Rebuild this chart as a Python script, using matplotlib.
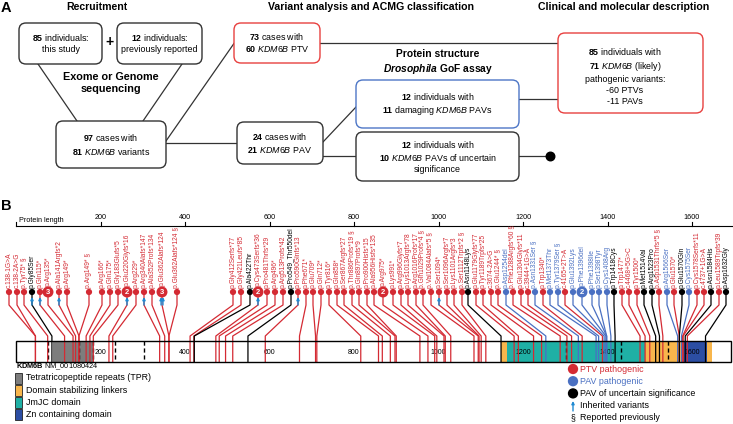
import matplotlib
matplotlib.use("Agg")
import matplotlib.pyplot as plt
from matplotlib.patches import FancyBboxPatch, Rectangle

plt.rcParams['font.family'] = ['Liberation Sans', 'DejaVu Sans']
plt.rcParams['mathtext.fontset'] = 'custom'
plt.rcParams['mathtext.rm'] = 'Liberation Sans'
plt.rcParams['mathtext.bf'] = 'Liberation Sans:bold'
plt.rcParams['mathtext.it'] = 'Liberation Sans:italic'
plt.rcParams['mathtext.sf'] = 'Liberation Sans:bold:italic'

# ---- data (panel B) ----
labels = [
    "c.138-1G>A", "c.138-2A>G", "p.Tyr75*", "p.Gly85Ser", "p.Gln115*", "p.Arg135*", "p.Ala141Argfs*2",
    "p.Arg149*", "p.Arg149*", "p.Arg166*", "p.Gln175*", "p.Gly183Glufs*5", "p.Glu220Glyfs*16",
    "p.Arg229*", "p.Arg340Alafs*147", "p.Ala352Profs*134", "p.Glu362Alafs*124", "p.Glu362Alafs*124",
    "p.Gly412Serfs*77", "p.Gly421Leufs*85", "p.Ala422Thr", "p.Cys473Serfs*36", "p.Pro481Thrfs*29",
    "p.Arg496*", "p.Arg513Profs*42", "p.Pro549_Thr550del", "p.Pro590Glnfs*13", "p.Phe671*",
    "p.Glu709*", "p.Gln712*", "p.Tyr816*", "p.Gln858*", "p.Ser867Argfs*27", "p.Thr886Profs*19",
    "p.Gln897Profs*9", "p.Pro900Hisfs*15", "p.Ala956Hisfs*135", "p.Arg975*", "p.Lys991*",
    "p.Arg996Glyfs*7", "p.Lys1013Argfs*78", "p.Arg1016Profs*17", "p.Gln1029Profs*4",
    "p.Val1084Alafs*5", "p.Ser1094*", "p.Ser1096Argfs*7", "p.Lys1101Argfs*3", "p.Ser1112Trpfs*2",
    "p.Asn1148Lys", "p.Glu1179Glyfs*77", "p.Tyr1189Trpfs*25", "c.3674-2A>G", "p.Glu1244*",
    "p.Asp1254del", "p.Phe1288Argfs*60", "p.Glu1304Glyfs*11", "c.3944+1G>A", "p.Asn1331Ser",
    "p.Trp1340*", "p.Met1373Thr", "p.Tyr1379Ser", "c.4165+2T>A", "p.Glu1392Lys", "p.Phe1396del",
    "p.Phe1398Ile", "p.Ser1398Tyr", "p.Cys1408Arg", "p.Trp1418Cys", "p.Trp1477*", "c.4468+5G>C",
    "p.Tyr1500*", "p.Met1514Val", "p.Arg1523Pro", "p.Asp1531Thrfs*5", "p.Arg1566Ser", "p.Glu1570*",
    "p.Glu1570Gln", "p.Cys1575Ser", "p.Cys1578Serfs*11", "c.4737+1G>A", "p.Asn1584His",
    "p.Leu1589Trpfs*39", "p.Asp1632Gly"]
aa_pos = [46, 46, 75, 85, 115, 135, 141, 149, 149, 166, 175, 183, 220, 229, 340, 352, 362, 362,
          412, 421, 422, 473, 481, 496, 513, 549, 590, 671, 709, 712, 816, 858, 867, 886, 897, 900,
          956, 975, 991, 996, 1013, 1016, 1029, 1084, 1094, 1096, 1101, 1112, 1148, 1179, 1189, 1225,
          1244, 1254, 1288, 1304, 1315, 1331, 1340, 1373, 1379, 1388, 1392, 1396, 1398, 1398, 1408,
          1418, 1477, 1489, 1500, 1514, 1523, 1531, 1566, 1570, 1570, 1575, 1578, 1579, 1584, 1589,
          1632]
# P = PTV pathogenic, D = PAV pathogenic, U = PAV of uncertain significance
vclass = ("PPPUPPPPPP" "PPPPPPPPPP" "UPPPPUPPPP" "PPPPPPPPPP" "PPPPPPPPUP"
          "PPPDPPPDPD" "DPDDDDDUPP" "PUUPDPUDPP" "UPU")
n_cases = {5: 3, 12: 2, 16: 3, 21: 2, 37: 2, 63: 2}
n_inherited = {3: 1, 4: 1, 6: 1, 12: 1, 14: 1, 16: 2, 21: 1, 26: 1, 44: 1}
reported = [2, 8, 17, 33, 42, 43, 47, 52, 54, 57, 60, 73]

domains = [("TPR", 88, 182), ("linker", 1148, 1162), ("jmjc", 1162, 1489),
           ("linker", 1489, 1574), ("zn", 1579, 1635), ("linker", 1635, 1647)]
dashed_aa = [76, 149, 182, 234, 303, 1302, 1432, 1543]
ruler_ticks = [0, 200, 400, 600, 800, 1000, 1200, 1400, 1600]
bar_len = 1692

# ---- layout: horizontal position of each lollipop head (pixels) ----
dot_px = [9, 17, 24, 32, 40, 48, 59, 67, 89, 102, 110, 118, 127, 136, 144, 152, 162, 177, 233, 241,
          250, 258, 267, 275, 283, 291, 298, 306, 313, 321, 329, 337, 344, 352, 359, 367, 374, 383,
          393, 401, 408, 416, 423, 431, 439, 447, 454, 462, 468, 476, 483, 491, 498, 506, 513, 521,
          528, 535, 543, 550, 558, 565, 573, 582, 592, 599, 607, 614, 622, 629, 637, 644, 652, 659,
          667, 674, 682, 689, 697, 704, 711, 719, 726]

RED = '#d42a33'
BLUE = '#4a70c2'
TEAL = '#1fb0a5'
ORANGE = '#f8b64c'
ZN = '#2c4ea3'
GREY = '#7d7d7d'
ARROW = '#1f8ad2'
EDGE = '#333333'
ccol = {'P': RED, 'D': BLUE, 'U': 'black'}

W, H = 733, 424
fig = plt.figure(figsize=(W / 100, H / 100), dpi=100)

# panel A works in pixel units
axA = fig.add_axes([0, 0, 1, 1])
axA.set_xlim(0, W)
axA.set_ylim(H, 0)
axA.axis('off')

# panel B: x in amino acids
PX0, PPA = 16, 0.4225
axB = fig.add_axes([0, 0, 1, 1])
axB.set_xlim(-PX0 / PPA, (W - PX0) / PPA)
axB.set_ylim(H, 0)
axB.axis('off')
axB.patch.set_alpha(0)

# ================= panel A =================
axA.text(1, 8, "A", fontsize=10.5, fontweight='bold', va='center')
axA.text(97, 7, "Recruitment", fontsize=7.6, fontweight='bold', ha='center', va='center')
axA.text(371, 7, "Variant analysis and ACMG classification", fontsize=7.6, fontweight='bold',
         ha='center', va='center')
axA.text(624, 7, "Clinical and molecular description", fontsize=7.6, fontweight='bold',
         ha='center', va='center')

def box(x0, y0, x1, y1, ec=EDGE):
    axA.add_patch(FancyBboxPatch((x0, y0), x1 - x0, y1 - y0,
                                 boxstyle="round,pad=0,rounding_size=7",
                                 fc='white', ec=ec, lw=1.0, zorder=3))

def line(xs, ys):
    axA.plot(xs, ys, color=EDGE, lw=0.9, zorder=1)

line([38, 77], [64, 121])
line([182, 143], [64, 121])
line([166, 237], [143, 143])
line([166, 235], [141, 42])
line([320, 559], [43, 43])
line([323, 356], [142, 107])
line([323, 356], [156, 156])
line([519, 558], [99, 99])
line([519, 550], [156, 156])
axA.scatter([550], [156], s=38, color='black', zorder=4)

box(19, 23, 102, 64)
box(117, 23, 202, 64)
box(56, 121, 166, 168)
box(234, 23, 320, 63, ec='#e8403f')
box(237, 122, 323, 164)
box(356, 80, 519, 128, ec='#4d76c6')
box(356, 132, 519, 181)
box(558, 33, 703, 113, ec='#e8403f')

fs = 6.4
kw = dict(fontsize=fs, ha='center', va='center', zorder=5, linespacing=1.25)
axA.text(60.5, 43, "$\\mathbf{85}$ individuals:\nthis study", **kw)
axA.text(159.5, 43, "$\\mathbf{12}$ individuals:\npreviously reported", **kw)
axA.text(109, 42, "+", fontsize=10, fontweight='bold', ha='center', va='center')
axA.text(111, 83, "Exome or Genome\nsequencing", fontsize=7.8, fontweight='bold',
         ha='center', va='center', linespacing=1.15)
axA.text(111, 144.5, "$\\mathbf{97}$ cases with\n$\\mathbf{81}$ $\\mathit{KDM6B}$ variants", **kw)
axA.text(277, 43, "$\\mathbf{73}$ cases with\n$\\mathbf{60}$ $\\mathit{KDM6B}$ PTV", **kw)
axA.text(280, 143, "$\\mathbf{24}$ cases with\n$\\mathbf{21}$ $\\mathit{KDM6B}$ PAV", **kw)
axA.text(438, 54, "Protein structure", fontsize=7.4, fontweight='bold', ha='center', va='center')
axA.text(438, 69, "$\\mathsf{Drosophila}$ GoF assay", fontsize=7.4, fontweight='bold',
         ha='center', va='center')
axA.text(437.5, 104, "$\\mathbf{12}$ individuals with\n$\\mathbf{11}$ damaging $\\mathit{KDM6B}$ PAVs", **kw)
axA.text(437.5, 156, "$\\mathbf{12}$ individuals with\n$\\mathbf{10}$ $\\mathit{KDM6B}$ PAVs of uncertain\nsignificance", **kw)
axA.text(625, 76, "$\\mathbf{85}$ individuals with\n$\\mathbf{71}$ $\\mathit{KDM6B}$ (likely)\n"
         "pathogenic variants:\n-60 PTVs\n-11 PAVs", fontsize=fs, ha='center', va='center',
         zorder=5, linespacing=1.3)

# ================= panel B =================
axA.text(1, 206, "B", fontsize=10.5, fontweight='bold', va='center')

# ruler
xmax_aa = (W - PX0) / PPA
axB.plot([0, xmax_aa], [226, 226], color='black', lw=0.8)
for t in ruler_ticks:
    axB.plot([t, t], [222, 226], color='black', lw=0.8)
    if t > 0:
        axB.text(t, 221, str(t), fontsize=5.2, ha='center', va='bottom')
axB.text(8, 224.5, "Protein length", fontsize=5.2, ha='left', va='bottom')

# protein bar
BAR_T, BAR_B = 341, 362
dom_col = {"TPR": GREY, "linker": ORANGE, "jmjc": TEAL, "zn": ZN}
for name, s, e in domains:
    axB.add_patch(Rectangle((s, BAR_T), e - s, BAR_B - BAR_T, fc=dom_col[name], ec='none', zorder=1))
for d in dashed_aa:
    axB.plot([d, d], [BAR_T, BAR_B], color='black', lw=1.0, ls=(0, (3, 2)), zorder=2)
for t in ruler_ticks[1:]:
    axB.text(t, 352, str(t), fontsize=5, ha='center', va='center', zorder=2)
axB.add_patch(Rectangle((0, BAR_T), bar_len, BAR_B - BAR_T, fc='none', ec='black', lw=1.0, zorder=4))

# lollipops
DOT_Y = 292
for i, lab in enumerate(labels):
    x = (dot_px[i] - PX0) / PPA
    c = ccol[vclass[i]]
    axB.plot([x, x, aa_pos[i], aa_pos[i]], [DOT_Y, 305, 336, BAR_B], color=c, lw=0.9, zorder=3)
    n = n_cases.get(i, 1)
    axB.scatter([x], [DOT_Y], s=(62 if n > 1 else 20), color=c, edgecolors='none', zorder=5)
    if n > 1:
        axB.text(x, DOT_Y + 0.3, str(n), color='white', fontsize=5.5, fontweight='bold',
                 ha='center', va='center', zorder=6)
    txt = lab + (" §" if i in reported else "")
    axB.text(x, DOT_Y - (6.5 if n > 1 else 4.5), txt, rotation=90, fontsize=4.8, color=c,
             ha='center', va='bottom', zorder=6)
    k = n_inherited.get(i, 0)
    for j in range(k):
        xo = x + (j - (k - 1) / 2) * 4.5
        axB.annotate("", xy=(xo, 297), xytext=(xo, 305),
                     arrowprops=dict(arrowstyle='-|>', color=ARROW, lw=1.0,
                                     mutation_scale=4, shrinkA=0, shrinkB=0), zorder=7)

# gene label and legends
axA.text(16, 367, "$\\mathbf{KDM6B}$ NM_001080424", fontsize=5.3, ha='left', va='center')
leg_dom = [("Tetratricopeptide repeats (TPR)", GREY), ("Domain stabilizing linkers", ORANGE),
           ("JmJC domain", TEAL), ("Zn containing domain", ZN)]
for k, (name, col) in enumerate(leg_dom):
    y = 378 + k * 12.2
    axA.add_patch(Rectangle((15, y - 5.5), 7, 11, fc=col, ec='#222222', lw=0.6))
    axA.text(26, y, name, fontsize=6.4, ha='left', va='center')

leg_var = [("PTV pathogenic", RED), ("PAV pathogenic", BLUE),
           ("PAV of uncertain significance", 'black')]
for k, (name, col) in enumerate(leg_var):
    y = 369 + k * 12.2
    axA.scatter([573], [y], s=55, color=col, edgecolors='none')
    axA.text(580, y, name, fontsize=6.4, color=col, ha='left', va='center')
axA.annotate("", xy=(573, 401), xytext=(573, 411),
             arrowprops=dict(arrowstyle='-|>', color=ARROW, lw=1.0, mutation_scale=4,
                             shrinkA=0, shrinkB=0))
axA.text(580, 406, "Inherited variants", fontsize=6.4, ha='left', va='center')
axA.text(573, 418, "§", fontsize=6.4, ha='center', va='center')
axA.text(580, 418, "Reported previously", fontsize=6.4, ha='left', va='center')

fig.savefig("out.png", dpi=100)
